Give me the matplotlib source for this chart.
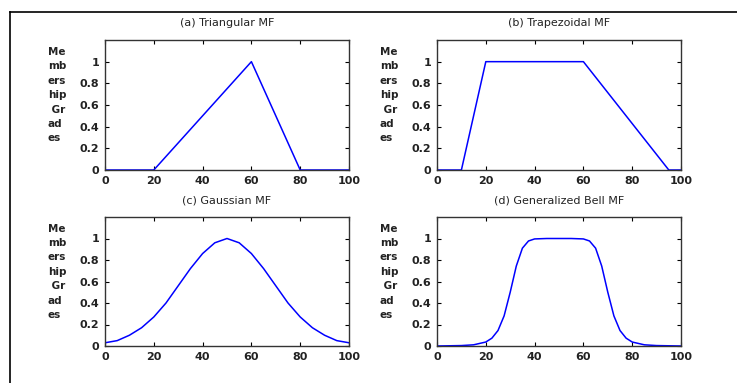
import numpy as np
from matplotlib import pyplot as plt
from matplotlib.lines import Line2D

# Membership function samples
tri_x = [0, 20, 60, 80, 100]
tri_y = [0, 0, 1, 0, 0]

trap_x = [0, 10, 20, 60, 95, 100]
trap_y = [0, 0, 1, 1, 0, 0]

gauss_x = [0, 5, 10, 15, 20, 25, 30, 35, 40, 45, 50,
           55, 60, 65, 70, 75, 80, 85, 90, 95, 100]
gauss_y = [0.03, 0.05, 0.10, 0.17, 0.27, 0.40, 0.56, 0.72, 0.86, 0.96, 1.0,
           0.96, 0.86, 0.72, 0.56, 0.40, 0.27, 0.17, 0.10, 0.05, 0.03]

bell_x = [0, 5, 10, 15, 20, 22.5, 25, 27.5, 30, 32.5, 35, 37.5, 40, 45, 50,
          55, 60, 62.5, 65, 67.5, 70, 72.5, 75, 77.5, 80, 85, 90, 95, 100]
bell_y = [0.0, 0.002, 0.004, 0.011, 0.037, 0.073, 0.144, 0.28, 0.5, 0.744, 0.91, 0.977, 0.996, 1.0, 1.0,
          1.0, 0.996, 0.977, 0.91, 0.744, 0.5, 0.28, 0.144, 0.073, 0.037, 0.011, 0.004, 0.002, 0.0]

titles = ['(a) Triangular MF', '(b) Trapezoidal MF',
          '(c) Gaussian MF', '(d) Generalized Bell MF']
series = [(tri_x, tri_y), (trap_x, trap_y), (gauss_x, gauss_y), (bell_x, bell_y)]
ylabel_lines = ['Me', 'mb', 'ers', 'hip', ' Gr', 'ad', 'es']
xticks = [0, 20, 40, 60, 80, 100]
yticks = [0, 0.2, 0.4, 0.6, 0.8, 1]
ytick_labels = ['0', '0.2', '0.4', '0.6', '0.8', '1']

W, H = 737, 383
fig = plt.figure(figsize=(W / 100, H / 100), dpi=100)

# axes boxes in pixels: left, top, right, bottom
boxes = [(105, 40, 349, 170), (437, 40, 681, 170),
         (105, 217, 349, 346), (437, 217, 681, 346)]

for (l, t, r, b), title, (xs, ys) in zip(boxes, titles, series):
    ax = fig.add_axes([l / W, (H - b) / H, (r - l) / W, (b - t) / H])
    ax.plot(xs, ys, color='#0000ff', lw=1.1)
    ax.set_xlim(0, 100)
    ax.set_ylim(0, 1.2)
    ax.set_xticks(xticks)
    ax.set_yticks(yticks)
    ax.set_yticklabels(ytick_labels)
    ax.tick_params(direction='in', length=3, width=0.8, top=True, right=True,
                   labelsize=8, colors='black', pad=4)
    for lab in ax.get_xticklabels() + ax.get_yticklabels():
        lab.set_fontweight('bold')
        lab.set_color('#222222')
    for s in ax.spines.values():
        s.set_linewidth(1.0)
        s.set_color('#333333')
    ax.set_title(title, fontsize=8, pad=10, color='#222222')
    ax.text(-0.235, 0.575, '\n'.join(ylabel_lines), transform=ax.transAxes,
            ha='left', va='center', fontsize=7.5, fontweight='bold',
            color='#222222', linespacing=1.55)

# outer frame (left and top edges)
fig.add_artist(Line2D([10 / W, 10 / W], [0, (H - 12) / H], color='black', lw=1.2))
fig.add_artist(Line2D([10 / W, 1], [(H - 12) / H, (H - 12) / H], color='black', lw=1.2))

plt.savefig('out.png', dpi=100)
